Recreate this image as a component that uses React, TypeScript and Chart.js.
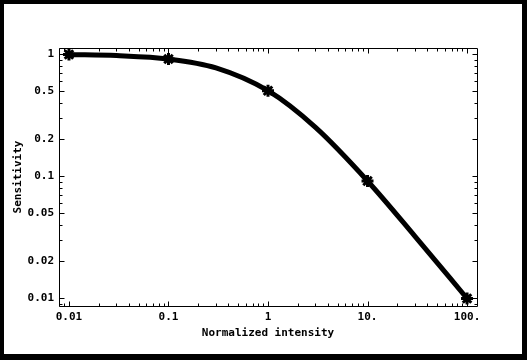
import React, { useEffect, useRef } from "react";
import { Chart, registerables } from "chart.js";

Chart.register(...registerables);

const xTickValues = [0.01, 0.1, 1, 10, 100];
const xTickLabels = ["0.01", "0.1", "1", "10.", "100."];
const yTickValues = [0.01, 0.02, 0.05, 0.1, 0.2, 0.5, 1];
const yTickLabels = ["0.01", "0.02", "0.05", "0.1", "0.2", "0.5", "1"];

const markerX = [0.01, 0.1, 1, 10, 100];
const markerY = [0.99, 0.91, 0.5, 0.091, 0.0099];

const curveX = [0.01, 0.03, 0.1, 0.3, 1, 3, 10, 30, 100];
const curveY = [0.99, 0.97, 0.91, 0.77, 0.5, 0.25, 0.091, 0.032, 0.0099];

const X_MIN = 0.00794;
const X_MAX = 125.9;
const Y_MIN = 0.00859;
const Y_MAX = 1.12;

const FONT = "'DejaVu Sans Mono', 'Liberation Mono', monospace";

function minorValues(min: number, max: number): number[] {
  const out: number[] = [];
  for (let e = -4; e <= 3; e++) {
    const d = Math.pow(10, e);
    for (let k = 2; k <= 9; k++) {
      const v = k * d;
      if (v > min && v < max) out.push(v);
    }
  }
  return out;
}

const frameTicks = {
  id: "frameTicks",
  afterDraw(chart: any) {
    const { ctx, chartArea } = chart;
    const xs = chart.scales.x;
    const ys = chart.scales.y;
    const L = Math.round(chartArea.left) + 0.5;
    const R = Math.round(chartArea.right) + 0.5;
    const T = Math.round(chartArea.top) + 0.5;
    const B = Math.round(chartArea.bottom) + 0.5;
    ctx.save();
    ctx.strokeStyle = "#000";
    ctx.lineWidth = 1;
    ctx.beginPath();
    ctx.rect(L, T, R - L, B - T);
    ctx.stroke();
    const drawX = (v: number, len: number) => {
      const p = Math.round(xs.getPixelForValue(v)) + 0.5;
      ctx.moveTo(p, B);
      ctx.lineTo(p, B - len);
      ctx.moveTo(p, T);
      ctx.lineTo(p, T + len);
    };
    const drawY = (v: number, len: number) => {
      const p = Math.round(ys.getPixelForValue(v)) + 0.5;
      ctx.moveTo(L, p);
      ctx.lineTo(L + len, p);
      ctx.moveTo(R, p);
      ctx.lineTo(R - len, p);
    };
    ctx.beginPath();
    xTickValues.forEach((v) => drawX(v, 5));
    minorValues(X_MIN, X_MAX).forEach((v) => drawX(v, 3));
    yTickValues.forEach((v) => drawY(v, 5));
    minorValues(Y_MIN, Y_MAX).forEach((v) => {
      if (!yTickValues.some((t) => Math.abs(t - v) < 1e-9)) drawY(v, 3);
    });
    ctx.stroke();
    ctx.restore();
  },
};

export default function App() {
  const ref = useRef<HTMLCanvasElement | null>(null);

  useEffect(() => {
    if (!ref.current) return;
    const chart = new Chart(ref.current, {
      type: "line",
      data: {
        datasets: [
          {
            data: curveX.map((x, i) => ({ x, y: curveY[i] })),
            borderColor: "#000",
            borderWidth: 5,
            pointRadius: 0,
            cubicInterpolationMode: "monotone",
            fill: false,
          },
          {
            data: markerX.map((x, i) => ({ x, y: markerY[i] })),
            showLine: false,
            pointStyle: "star",
            pointRadius: 6,
            borderWidth: 3,
            borderColor: "#000",
            backgroundColor: "#000",
            clip: false,
          } as any,
        ],
      },
      options: {
        responsive: false,
        animation: false,
        devicePixelRatio: 1,
        layout: { padding: { left: 0, top: 44, right: 45, bottom: 0 } },
        plugins: {
          legend: { display: false },
          tooltip: { enabled: false },
        },
        scales: {
          x: {
            type: "logarithmic",
            min: X_MIN,
            max: X_MAX,
            grid: { display: false, drawTicks: false },
            border: { display: false },
            afterBuildTicks: (s: any) => {
              s.ticks = xTickValues.map((v) => ({ value: v }));
            },
            afterFit: (s: any) => {
              s.height = 48;
            },
            ticks: {
              autoSkip: false,
              maxRotation: 0,
              padding: 5,
              color: "#000",
              font: { family: FONT, size: 11, weight: "bold" },
              callback: (_v: any, i: number) => xTickLabels[i],
            },
            title: {
              display: true,
              text: "Normalized intensity",
              color: "#000",
              font: { family: FONT, size: 11, weight: "bold" },
              padding: { top: 0, bottom: 14 },
            },
          },
          y: {
            type: "logarithmic",
            min: Y_MIN,
            max: Y_MAX,
            grid: { display: false, drawTicks: false },
            border: { display: false },
            afterBuildTicks: (s: any) => {
              s.ticks = yTickValues.map((v) => ({ value: v }));
            },
            afterFit: (s: any) => {
              s.width = 55;
            },
            ticks: {
              autoSkip: false,
              padding: 5,
              color: "#000",
              font: { family: FONT, size: 11, weight: "bold" },
              callback: (_v: any, i: number) => yTickLabels[i],
            },
            title: {
              display: true,
              text: "Sensitivity",
              color: "#000",
              font: { family: FONT, size: 11, weight: "bold" },
              padding: { top: 8, bottom: 0 },
            },
          },
        },
      } as any,
      plugins: [frameTicks],
    });
    return () => chart.destroy();
  }, []);

  return (
    <div
      style={{
        position: "absolute",
        left: 0,
        top: 0,
        width: 527,
        height: 360,
        background: "#000",
      }}
    >
      <div
        style={{
          position: "absolute",
          left: 4,
          top: 4,
          width: 518,
          height: 350,
          background: "#fff",
        }}
      >
        <canvas ref={ref} width={518} height={350} style={{ display: "block", width: 518, height: 350 }} />
      </div>
    </div>
  );
}
